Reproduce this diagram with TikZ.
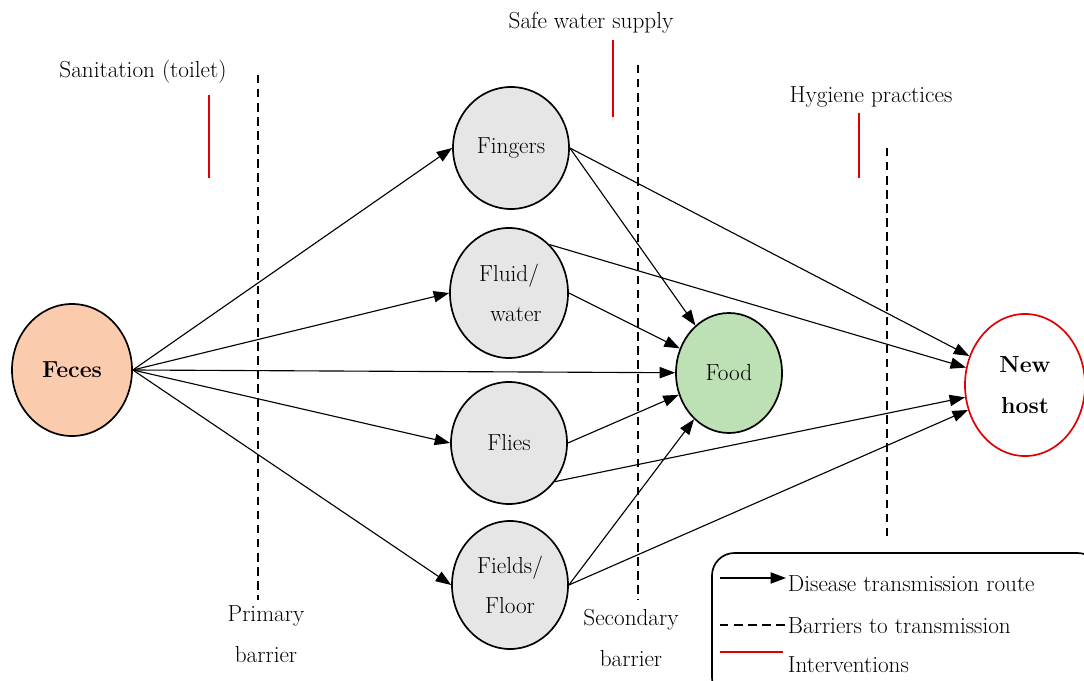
\documentclass[tikz,border=0pt]{standalone}
\usetikzlibrary{shapes.geometric,arrows.meta}
\definecolor{fecesfill}{HTML}{FBCBAD}
\definecolor{foodfill}{HTML}{BDE0B4}
\definecolor{routefill}{HTML}{E6E6E6}
\definecolor{redline}{HTML}{E00000}
\tikzset{
  blob/.style={ellipse,draw,line width=1.2pt,inner sep=0pt,align=center,font=\fontsize{16.5}{29}\selectfont},
  route/.style={ellipse,draw,line width=1.2pt,fill=routefill,inner sep=0pt,align=center,
    minimum width=2.9cm,minimum height=3.05cm,font=\fontsize{16.5}{29}\selectfont},
  link/.style={-{Triangle[length=11pt,width=8pt]},line width=0.8pt},
  barrier/.style={dashed,dash pattern=on 6pt off 4pt,line width=1.2pt},
  interv/.style={draw=redline,line width=1.2pt},
  lbl/.style={font=\fontsize{16.5}{29}\selectfont,align=center}
}
\begin{document}
\begin{tikzpicture}[x=0.025cm,y=-0.025cm]
  \useasboundingbox (0,0) rectangle (1084,681);
  \clip (0,0) rectangle (1084,681);
  % barriers
  \draw[barrier] (258,75) -- (258,600);
  \draw[barrier] (638,65) -- (638,600);
  \draw[barrier] (887,148) -- (887,540);
  \node[lbl] (primary) at (266,634) {Primary\\barrier};
  \node[lbl] (secondary) at (631,638) {Secondary\\barrier};
  % interventions
  \draw[interv] (209,95) -- (209,178);
  \draw[interv] (613,40) -- (613,117);
  \draw[interv] (859,113) -- (859,178);
  \node[lbl] (sanitation) at (143,72) {Sanitation (toilet)};
  \node[lbl] (water) at (591,23) {Safe water supply};
  \node[lbl] (hygiene) at (871,97) {Hygiene practices};
  % nodes
  \node[blob,fill=fecesfill,minimum width=3cm,minimum height=3.3cm] (feces) at (72,370) {\textbf{Feces}};
  \node[route] (fingers) at (511,148) {Fingers};
  \node[route,minimum width=2.95cm,minimum height=3.25cm] (fluid) at (509,293) {Fluid/\\\ \ water};
  \node[route] (flies) at (509,443) {Flies};
  \node[route,minimum height=3.2cm] (fields) at (510,585) {Fields/\\Floor};
  \node[blob,fill=foodfill,minimum width=2.65cm,minimum height=3cm] (food) at (729,373) {Food};
  \node[blob,draw=redline,fill=white,minimum width=3cm,minimum height=3.55cm,
    font=\fontsize{16.5}{29}\selectfont\bfseries] (host) at (1025,385) {New\\host};
  % routes
  \draw[link] (feces.east) -- (fingers.west);
  \draw[link] (feces.east) -- (fluid.west);
  \draw[link] (feces.east) -- (food);
  \draw[link] (feces.east) -- (flies.west);
  \draw[link] (feces.east) -- (fields.west);
  \draw[link] (fingers.east) -- (food);
  \draw[link] (fingers.east) -- (host);
  \draw[link] (fluid.50) -- (host);
  \draw[link] (fluid.east) -- (food);
  \draw[link] (flies.east) -- (food);
  \draw[link] (flies.-40) -- (host);
  \draw[link] (fields.east) -- (food);
  \draw[link] (fields.east) -- (host);
  % legend
  \draw[line width=1.2pt,rounded corners=16pt] (712,553) rectangle (1100,700);
  \coordinate (l1a) at (720,578);
  \coordinate (l1b) at (786,578);
  \draw[link] (l1a) -- (l1b);
  \node[lbl,anchor=west] (leg1) at (783,584) {Disease transmission route};
  \coordinate (l2a) at (720,625);
  \coordinate (l2b) at (786,625);
  \draw[barrier] (l2a) -- (l2b);
  \node[lbl,anchor=west] (leg2) at (783,626) {Barriers to transmission};
  \coordinate (l3a) at (720,652);
  \coordinate (l3b) at (783,652);
  \draw[interv] (l3a) -- (l3b);
  \node[lbl,anchor=west] (leg3) at (783,665) {Interventions};
\end{tikzpicture}
\end{document}
